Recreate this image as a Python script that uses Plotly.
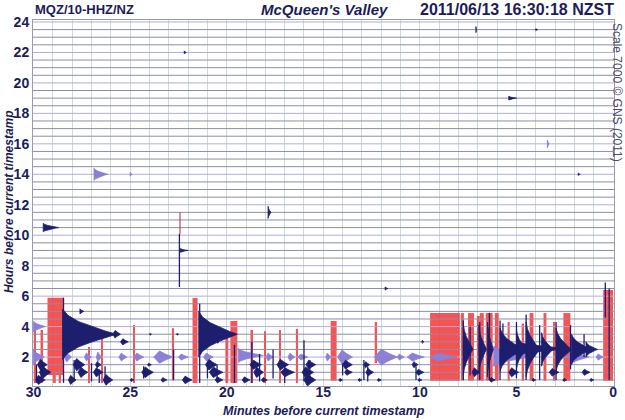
import plotly.graph_objects as go

# ---------------- data ----------------
x_ticks = [30, 25, 20, 15, 10, 5, 0]
y_ticks = [2, 4, 6, 8, 10, 12, 14, 16, 18, 20, 22, 24]
minute_grid = [0, 1, 2, 3, 4, 5, 6, 7, 8, 9, 10, 11, 12, 13, 14, 15, 16, 17, 18, 19,
               20, 21, 22, 23, 24, 25, 26, 27, 28, 29, 30]

# trace baselines (one per half hour) : hour, colour key
row_hours = [24.0, 23.5, 23.0, 22.5, 22.0, 21.5, 21.0, 20.5, 20.0, 19.5, 19.0, 18.5,
             18.0, 17.5, 17.0, 16.5, 16.0, 15.5, 15.0, 14.5, 14.0, 13.5, 13.0, 12.5,
             12.0, 11.5, 11.0, 10.5, 10.0, 9.5, 9.0, 8.5, 8.0, 7.5, 7.0, 6.5,
             6.0, 5.5, 5.0, 4.5, 4.0, 3.5, 3.0, 2.5, 2.0, 1.5, 1.0, 0.5]
row_kind = ["p", "n", "n", "n"] * 12

# impulsive events (onset minute, row hour, half amplitude [h], duration [min])
navy_codas = [
    (29.5, 10.5, 0.28, 0.8), (17.86, 11.5, 0.40, 0.15), (5.4, 19.0, 0.12, 0.4),
    (7.1, 23.5, 0.20, 0.05), (22.2, 22.0, 0.10, 0.10), (4.0, 23.5, 0.06, 0.10),
    (1.8, 14.0, 0.08, 0.10), (11.8, 6.5, 0.10, 0.15), (27.6, 5.0, 0.17, 0.20),
    (22.4, 9.0, 0.12, 0.40),
    (28.5, 3.5, 1.65, 2.8), (21.45, 3.5, 1.5, 2.0),
    (7.75, 2.5, 1.7, 0.5), (6.95, 2.5, 1.6, 0.4), (6.5, 2.5, 1.8, 0.3),
    (5.85, 2.5, 1.4, 1.2), (5.0, 2.5, 1.3, 0.5), (4.5, 2.5, 1.8, 0.7),
    (3.7, 2.5, 1.1, 0.6), (2.95, 2.5, 1.4, 0.8), (2.15, 2.5, 1.0, 1.0),
    (1.4, 2.5, 0.5, 0.6),
]
purple_codas = [
    (26.87, 14.0, 0.40, 0.7), (25.0, 14.0, 0.12, 0.1), (3.4, 16.0, 0.25, 0.1),
    (30.0, 4.0, 0.35, 0.6), (30.0, 2.0, 0.52, 0.55), (19.4, 2.1, 0.46, 1.3),
    (6.18, 2.05, 0.66, 2.2),
]
# emergent bursts (start minute, row hour, half amplitude [h], duration [min])
purple_bursts = [
    (28.4, 2.0, 0.33, 0.36), (27.37, 2.0, 0.26, 0.36), (26.75, 2.0, 0.33, 0.26),
    (25.58, 2.0, 0.26, 0.41), (24.8, 2.0, 0.26, 0.5), (23.78, 2.0, 0.40, 1.0),
    (22.5, 2.0, 0.20, 0.5), (21.2, 2.0, 0.26, 0.5), (17.96, 2.0, 0.26, 0.36),
    (16.83, 2.0, 0.26, 0.36), (16.31, 2.0, 0.20, 0.5), (14.87, 2.0, 0.26, 0.26),
    (14.26, 2.0, 0.46, 0.77), (12.35, 2.0, 0.52, 1.18), (11.17, 2.0, 0.20, 0.36),
    (10.65, 2.0, 0.26, 0.87), (9.47, 2.0, 0.26, 1.4), (2.42, 2.0, 0.33, 1.18),
    (0.87, 2.0, 0.20, 0.36),
]
navy_bursts = [
    (25.9, 3.5, 0.25, 0.4), (24.0, 3.5, 0.06, 0.1), (22.6, 3.5, 0.06, 0.1),
    (20.5, 3.0, 0.10, 0.1), (25.5, 3.0, 0.20, 0.4), (9.9, 3.0, 0.10, 0.1),
    (5.8, 2.55, 0.35, 3.5),
    (29.8, 1.5, 0.35, 0.5), (27.95, 1.5, 0.40, 0.6), (26.8, 1.5, 0.20, 0.3),
    (24.1, 1.5, 0.10, 0.2), (21.1, 1.5, 0.35, 0.6), (18.8, 1.5, 0.30, 0.6),
    (17.4, 1.5, 0.35, 0.6), (15.9, 1.5, 0.30, 0.5), (14.0, 1.5, 0.30, 0.5),
    (12.9, 1.5, 0.20, 0.3), (10.4, 1.5, 0.20, 0.3),
    (29.7, 1.0, 0.40, 0.6), (27.7, 1.0, 0.35, 0.5), (26.9, 1.0, 0.30, 0.5),
    (24.4, 1.0, 0.35, 0.6), (20.9, 1.0, 0.35, 0.7), (18.6, 1.0, 0.35, 0.5),
    (17.2, 1.0, 0.30, 0.7), (16.1, 1.0, 0.35, 0.6), (13.9, 1.0, 0.20, 0.4),
    (12.8, 1.0, 0.25, 0.4), (10.2, 1.0, 0.20, 0.4), (7.3, 1.0, 0.30, 0.4),
    (5.4, 1.0, 0.30, 0.5), (3.3, 1.0, 0.25, 0.5), (1.6, 1.0, 0.20, 0.4),
    (29.9, 0.5, 0.30, 0.5), (28.2, 0.5, 0.30, 0.4), (26.4, 0.5, 0.35, 0.5),
    (25.0, 0.5, 0.10, 0.2), (23.4, 0.5, 0.15, 0.3), (22.3, 0.5, 0.25, 0.5),
    (20.6, 0.5, 0.20, 0.4), (19.2, 0.5, 0.20, 0.4), (18.2, 0.5, 0.15, 0.3),
    (16.0, 0.5, 0.40, 0.6), (14.2, 0.5, 0.10, 0.2), (13.2, 0.5, 0.10, 0.2),
    (12.2, 0.5, 0.10, 0.2), (10.1, 0.5, 0.10, 0.2), (6.4, 0.5, 0.15, 0.3),
    (4.2, 0.5, 0.10, 0.2), (2.6, 0.5, 0.10, 0.2), (1.2, 0.5, 0.10, 0.2),
]
# single spikes (minute, lowest hour, highest hour)
navy_spikes = [
    (29.85, 0.3, 1.5), (29.6, 0.5, 1.4), (28.45, 0.3, 5.9), (27.9, 0.5, 1.8),
    (27.0, 0.4, 1.6), (26.6, 0.3, 1.2), (26.3, 0.4, 1.4), (24.3, 0.6, 1.4),
    (22.75, 0.5, 2.5), (21.4, 0.3, 5.5), (21.0, 0.6, 1.6), (20.5, 0.4, 1.5),
    (19.6, 0.3, 2.8), (18.7, 0.3, 3.0), (18.3, 0.4, 2.2), (17.6, 0.6, 2.5),
    (17.0, 0.3, 1.6), (16.0, 0.4, 3.1), (15.7, 0.5, 1.8), (14.0, 0.8, 1.6),
    (12.9, 0.5, 1.8), (12.7, 0.4, 1.4), (10.2, 0.5, 1.4), (7.75, 0.5, 4.4),
    (7.4, 0.8, 4.0), (6.9, 0.5, 4.3), (6.4, 0.5, 4.9), (5.85, 0.5, 4.4),
    (5.7, 1.5, 4.2), (5.0, 0.6, 4.3), (4.5, 0.5, 4.8), (3.8, 0.5, 4.1),
    (2.95, 0.5, 4.3), (2.2, 1.2, 4.1), (1.5, 2.0, 3.5), (0.4, 4.6, 6.9),
    (0.2, 0.5, 6.5), (22.45, 6.6, 10.1),
]
brown_spikes = [(22.42, 10.1, 11.5)]
# clipped (red) sections: left minute, right minute, lowest hour, highest hour
clip_bars = [
    (29.28, 28.45, 0.82, 5.9), (29.0, 28.85, 0.3, 0.82), (28.7, 28.6, 0.3, 0.82),
    (29.99, 29.91, 0.3, 4.24), (29.64, 29.56, 0.3, 3.78), (27.16, 27.08, 0.3, 2.66),
    (26.49, 26.41, 0.3, 3.78), (24.85, 24.77, 0.3, 4.1), (22.84, 22.76, 0.45, 3.9),
    (21.77, 21.51, 0.3, 5.88), (20.07, 19.92, 0.3, 3.32), (19.81, 19.45, 0.3, 4.37),
    (18.77, 18.69, 0.3, 3.78), (18.05, 17.97, 0.3, 3.7), (17.28, 17.2, 0.3, 3.78),
    (16.42, 16.31, 0.3, 3.85), (14.62, 14.31, 0.45, 4.37), (12.34, 12.27, 1.61, 4.3),
    (9.47, 7.93, 0.45, 4.89), (7.87, 7.72, 0.45, 4.89), (7.51, 7.2, 0.45, 4.89),
    (7.05, 6.9, 0.45, 4.7), (6.9, 6.69, 0.45, 4.89), (6.59, 6.23, 0.45, 4.89),
    (6.12, 5.92, 0.45, 4.89), (5.46, 5.35, 0.45, 4.3), (4.73, 4.63, 0.45, 4.2),
    (4.32, 4.12, 0.45, 4.89), (3.6, 3.45, 0.45, 4.89), (3.09, 3.04, 0.45, 4.3),
    (2.57, 2.21, 0.45, 4.89), (0.51, 0.0, 0.45, 6.4),
]

NAVY = "#1e1e6e"
PURPLE = "#8c7fd6"
RED = "#f73535"
TXT = "#1c1c5a"

# envelope outline used to draw a decaying coda (fraction of duration, fraction of amplitude)
coda_env_t = [0.0, 0.1, 0.3, 0.55, 0.8, 1.0]
coda_env_a = [1.0, 0.75, 0.5, 0.3, 0.12, 0.0]


# ---------------- helpers turning events into shapes ----------------
def coda_path(events):
    xs, ys = [], []
    for m0, h, a, d in events:
        top_x = [m0 - t * d for t in coda_env_t]
        top_y = [h + f * a for f in coda_env_a]
        bot_x = top_x[::-1]
        bot_y = [h - f * a for f in coda_env_a[::-1]]
        xs += top_x + bot_x + [m0, None]
        ys += top_y + bot_y + [h + a, None]
    return xs, ys


def burst_path(events):
    xs, ys = [], []
    for m0, h, a, d in events:
        xs += [m0, m0 - 0.3 * d, m0 - 0.6 * d, m0 - d, m0 - 0.6 * d, m0 - 0.3 * d, m0, None]
        ys += [h, h + a, h + 0.5 * a, h, h - 0.5 * a, h - a, h, None]
    return xs, ys


def spike_path(spikes):
    xs, ys = [], []
    for m, lo, hi in spikes:
        xs += [m, m, None]
        ys += [lo, hi, None]
    return xs, ys


fig = go.Figure()

# baselines
for kind, col in (("n", "#8d8daa"), ("p", "#b3acdc")):
    xs, ys = [], []
    for h, k in zip(row_hours, row_kind):
        if k == kind:
            xs += [30.03, -0.05, None]
            ys += [h, h, None]
    fig.add_trace(go.Scatter(x=xs, y=ys, mode="lines", line=dict(color=col, width=1),
                             hoverinfo="skip"))

# bursts and codas
for ev, col, fn in ((purple_bursts, PURPLE, burst_path), (purple_codas, PURPLE, coda_path),
                    (navy_bursts, NAVY, burst_path), (navy_codas, NAVY, coda_path)):
    xs, ys = fn(ev)
    fig.add_trace(go.Scatter(x=xs, y=ys, mode="lines", fill="toself", fillcolor=col,
                             line=dict(color=col, width=0.8), hoverinfo="skip"))

xs, ys = spike_path(navy_spikes)
fig.add_trace(go.Scatter(x=xs, y=ys, mode="lines", line=dict(color=NAVY, width=1.3),
                         hoverinfo="skip"))

# clipped sections
fig.add_trace(go.Bar(
    x=[(a + b) / 2 for a, b, lo, hi in clip_bars],
    y=[hi - lo for a, b, lo, hi in clip_bars],
    base=[lo for a, b, lo, hi in clip_bars],
    width=[max(a - b, 0.05) for a, b, lo, hi in clip_bars],
    marker=dict(color=RED, opacity=0.85, line=dict(width=0)),
    hoverinfo="skip"))

xs, ys = spike_path(brown_spikes)
fig.add_trace(go.Scatter(x=xs, y=ys, mode="lines", line=dict(color="#c04848", width=1.2),
                         hoverinfo="skip"))

fig.update_layout(
    width=625, height=420,
    margin=dict(l=33, r=8, t=20, b=34),
    plot_bgcolor="white", paper_bgcolor="white",
    showlegend=False, barmode="overlay",
    font=dict(family="Liberation Sans", color=TXT),
    xaxis=dict(range=[30.03, -0.05], tickmode="array", tickvals=x_ticks,
               ticktext=[str(v) for v in x_ticks],
               tickfont=dict(size=14, weight="bold", color=TXT),
               ticklabelstandoff=-7,
               showgrid=True, gridcolor="#cddbd5", gridwidth=1,
               minor=dict(tickmode="array", tickvals=minute_grid, showgrid=True,
                          gridcolor="#cddbd5", gridwidth=1),
               zeroline=False, showline=True, mirror=True, linecolor="#9a9ab0",
               ticks="", fixedrange=True),
    yaxis=dict(range=[0.1, 24.13], tickmode="array", tickvals=y_ticks,
               ticktext=[str(v) for v in y_ticks],
               tickfont=dict(size=14, weight="bold", color=TXT),
               showgrid=False, zeroline=False, showline=True, mirror=True,
               linecolor="#9a9ab0", ticks="", fixedrange=True),
)

ann = [
    dict(text="MQZ/10-HHZ/NZ", x=33, y=10, size=13, style="normal", xanchor="left"),
    dict(text="McQueen's Valley", x=326, y=10, size=15, style="italic", xanchor="center"),
    dict(text="2011/06/13 16:30:18 NZST", x=619, y=10, size=16, style="normal", xanchor="right"),
    dict(text="Minutes before current timestamp", x=326, y=411, size=12.5, style="italic",
         xanchor="center"),
]
for a in ann:
    fig.add_annotation(text=a["text"], xref="paper", yref="paper",
                       x=(a["x"] - 33) / 584,
                       y=1 - (a["y"] - 20) / 366, xanchor=a["xanchor"], yanchor="middle",
                       showarrow=False,
                       font=dict(size=a["size"], color=TXT, weight="bold", style=a["style"]))
fig.add_annotation(text="Hours before current timestamp", xref="paper", yref="paper",
                   x=(9 - 33) / 584, y=1 - (202 - 20) / 366, textangle=-90,
                   xanchor="center", yanchor="middle", showarrow=False,
                   font=dict(size=12, color=TXT, weight="bold", style="italic"))
fig.add_annotation(text="Scale 7000 \u00a9 GNS (2011)", xref="paper", yref="paper",
                   x=(620 - 33) / 584, y=1 - (93 - 20) / 366, textangle=90,
                   xanchor="center", yanchor="middle", showarrow=False,
                   font=dict(size=12, color="#4a4a6e"))

fig.write_html("out.html")
